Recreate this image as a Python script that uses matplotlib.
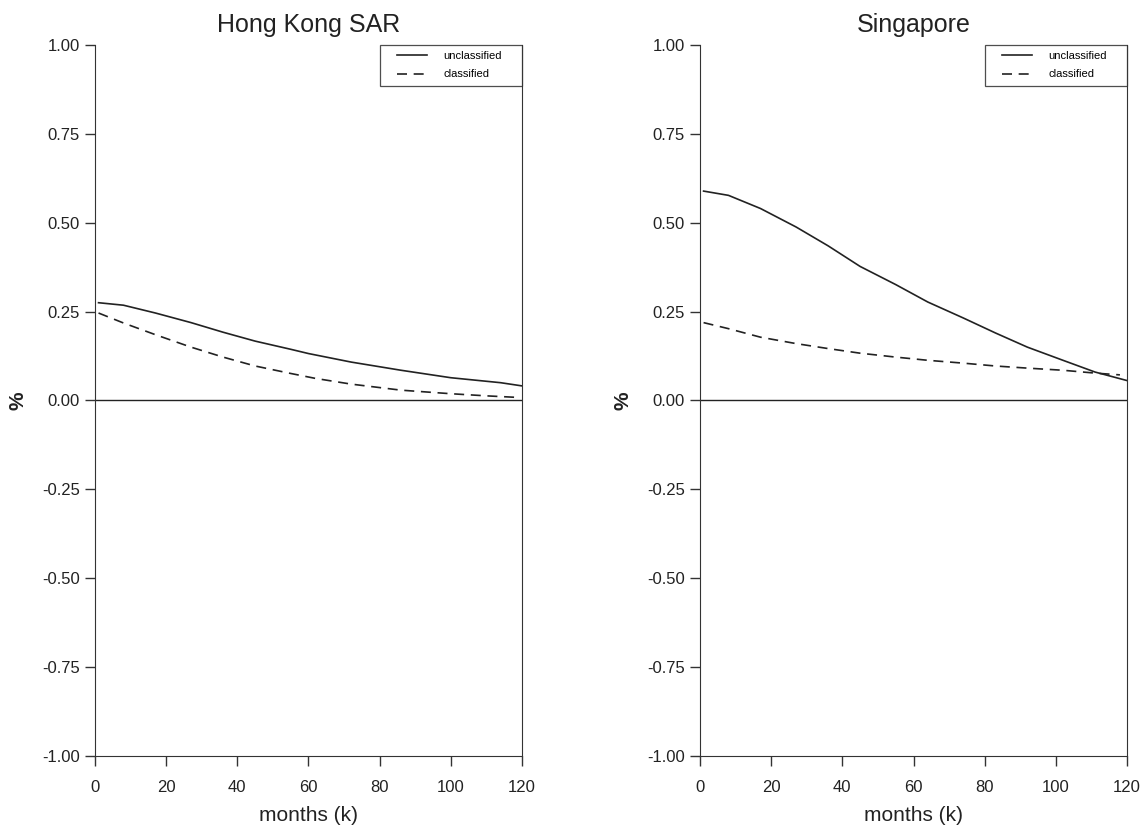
import matplotlib.pyplot as plt
from matplotlib.lines import Line2D
from matplotlib.legend_handler import HandlerLine2D

plt.rcParams['font.family'] = ['Liberation Sans', 'DejaVu Sans']

# months (k) and responses (%)
hk_k = [1, 8, 17, 27, 36, 45, 55, 60, 72, 86, 100, 114, 120]
hk_unclassified = [0.275, 0.268, 0.246, 0.219, 0.192, 0.167, 0.144, 0.132,
                   0.108, 0.085, 0.064, 0.050, 0.041]
hk_k_cls = [1, 8, 17, 27, 36, 45, 55, 62, 72, 86, 100, 110, 118]
hk_classified = [0.246, 0.218, 0.185, 0.150, 0.122, 0.097, 0.076, 0.062,
                 0.046, 0.029, 0.019, 0.013, 0.009]

sg_k = [1, 8, 17, 27, 36, 45, 55, 64, 74, 83, 92, 102, 111, 120]
sg_unclassified = [0.589, 0.577, 0.540, 0.488, 0.435, 0.377, 0.326, 0.277,
                   0.232, 0.190, 0.150, 0.113, 0.080, 0.056]
sg_k_cls = [1, 8, 17, 27, 36, 45, 55, 64, 74, 83, 92, 102, 111, 118]
sg_classified = [0.219, 0.202, 0.178, 0.160, 0.146, 0.133, 0.122, 0.113,
                 0.105, 0.097, 0.091, 0.085, 0.077, 0.072]

yticks = [-1.0, -0.75, -0.5, -0.25, 0.0, 0.25, 0.5, 0.75, 1.0]
xticks = [0, 20, 40, 60, 80, 100, 120]

panels = [
    ("Hong Kong SAR", hk_k, hk_unclassified, hk_k_cls, hk_classified),
    ("Singapore", sg_k, sg_unclassified, sg_k_cls, sg_classified),
]

fig = plt.figure(figsize=(11.47, 8.27), dpi=100)
lefts = [0.0828, 0.6103]
ink = '#222222'

for left, (title, k1, u, k2, c) in zip(lefts, panels):
    ax = fig.add_axes([left, 0.0859, 0.3723, 0.8597])
    ax.plot(k1, u, color=ink, lw=1.2, label='unclassified')
    ax.plot(k2, c, color=ink, lw=1.2, ls=(0, (6, 4)), label='classified')
    ax.axhline(0, color=ink, lw=1.0)
    ax.set_xlim(0, 120)
    ax.set_ylim(-1, 1)
    ax.set_xticks(xticks)
    ax.set_yticks(yticks)
    ax.set_yticklabels([f"{t:.2f}" for t in yticks])
    ax.tick_params(direction='out', length=7, width=1, labelsize=12,
                   color='#333333', labelcolor=ink)
    ax.tick_params(axis='x', pad=10)
    ax.tick_params(axis='y', pad=4)
    ax.spines['top'].set_visible(False)
    for s in ['left', 'bottom', 'right']:
        ax.spines[s].set_color('#333333')
    ax.set_title(title, fontsize=18, pad=9, color=ink)
    ax.set_xlabel("months (k)", fontsize=15, labelpad=8, color=ink)
    ax.set_ylabel("%", fontsize=15, fontweight='bold', labelpad=10, color=ink)
    leg = ax.legend(loc='upper right', bbox_to_anchor=(0.667, 0, 0.333, 1.0),
                    mode='expand', fontsize=8, frameon=True, fancybox=False,
                    borderaxespad=0, borderpad=0.55, labelspacing=0.75,
                    handlelength=3.7, handletextpad=1.5, edgecolor=ink,
                    handler_map={Line2D: HandlerLine2D(xpad=1.0)})
    leg.get_frame().set_linewidth(0.9)

fig.savefig("out.png", dpi=100)
